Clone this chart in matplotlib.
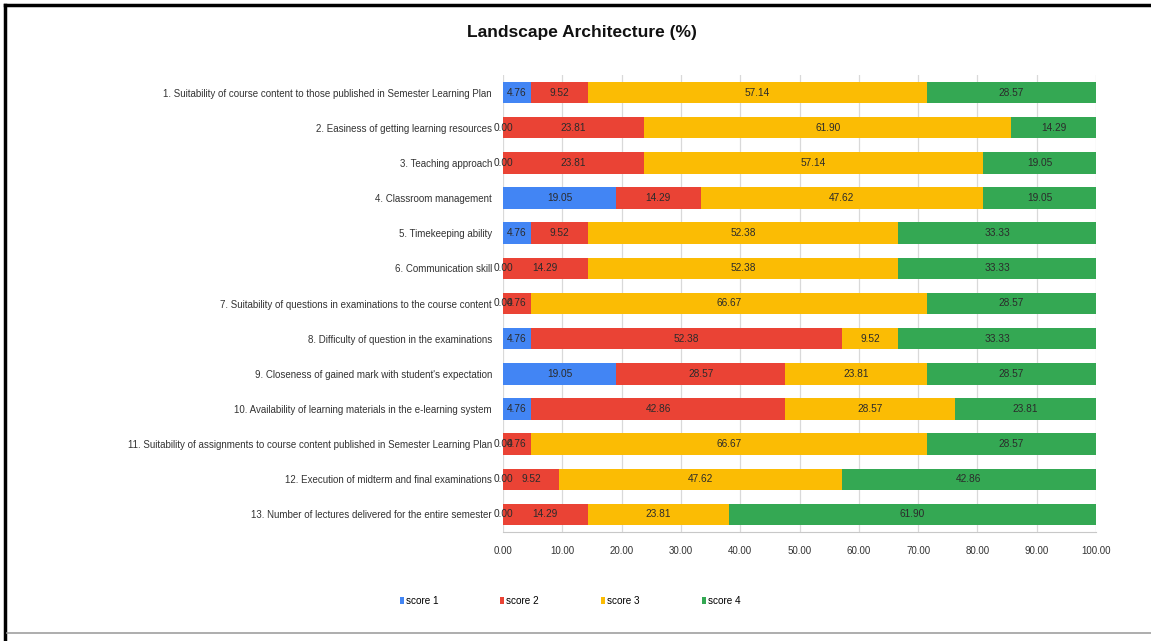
import matplotlib
matplotlib.use("Agg")
import matplotlib.pyplot as plt
from matplotlib.patches import Patch
from matplotlib.lines import Line2D
import numpy as np

plt.rcParams['font.family'] = ['Liberation Sans Narrow', 'Liberation Sans', 'DejaVu Sans']

title = "Landscape Architecture (%)"
categories = [
    "1. Suitability of course content to those published in Semester Learning Plan",
    "2. Easiness of getting learning resources",
    "3. Teaching approach",
    "4. Classroom management",
    "5. Timekeeping ability",
    "6. Communication skill",
    "7. Suitability of questions in examinations to the course content",
    "8. Difficulty of question in the examinations",
    "9. Closeness of gained mark with student's expectation",
    "10. Availability of learning materials in the e-learning system",
    "11. Suitability of assignments to course content published in Semester Learning Plan",
    "12. Execution of midterm and final examinations",
    "13. Number of lectures delivered for the entire semester",
]
score1 = [4.76, 0.00, 0.00, 19.05, 4.76, 0.00, 0.00, 4.76, 19.05, 4.76, 0.00, 0.00, 0.00]
score2 = [9.52, 23.81, 23.81, 14.29, 9.52, 14.29, 4.76, 52.38, 28.57, 42.86, 4.76, 9.52, 14.29]
score3 = [57.14, 61.90, 57.14, 47.62, 52.38, 52.38, 66.67, 9.52, 23.81, 28.57, 66.67, 47.62, 23.81]
score4 = [28.57, 14.29, 19.05, 19.05, 33.33, 33.33, 28.57, 33.33, 28.57, 23.81, 28.57, 42.86, 61.90]
series_names = ["score 1", "score 2", "score 3", "score 4"]
series_colors = ["#4285F4", "#EA4335", "#FBBC04", "#34A853"]
x_ticks = [0, 10, 20, 30, 40, 50, 60, 70, 80, 90, 100]

W, H = 1151, 641
fig = plt.figure(figsize=(W / 100, H / 100), dpi=100)
fig.patch.set_facecolor("white")

ax = fig.add_axes([503 / W, (H - 532) / H, 593 / W, 457 / H])

y = np.arange(len(categories))
left = np.zeros(len(categories))
for name, vals, col in zip(series_names, [score1, score2, score3, score4], series_colors):
    vals = np.array(vals)
    bars = ax.barh(y, vals, left=left, height=0.61, color=col, label=name, zorder=2)
    ax.bar_label(bars, labels=[f"{v:.2f}" for v in vals], label_type="center",
                 fontsize=7.3, color="#2b2b2b", clip_on=False)
    left += vals

ax.set_xlim(0, 100)
ax.set_ylim(len(categories) - 0.5, -0.5)
ax.set_yticks(y)
ax.set_yticklabels(categories, fontsize=7.0, color="#333333")
ax.set_xticks(x_ticks)
ax.set_xticklabels([f"{t:.2f}" for t in x_ticks], fontsize=7.0, color="#333333")
ax.tick_params(axis="both", length=0)
ax.tick_params(axis="y", pad=8)
ax.tick_params(axis="x", pad=10)
ax.grid(axis="x", color="#d9d9d9", linewidth=0.9, zorder=0)
for side in ["top", "right", "left"]:
    ax.spines[side].set_visible(False)
ax.spines["bottom"].set_color("#c8c8c8")

fig.text(582 / W, 1 - 33 / H, title, ha="center", va="center",
         fontsize=12.5, fontweight="bold", color="#111111")

handles = [Patch(facecolor=c, edgecolor="none") for c in series_colors]
fig.legend(handles, series_names, loc="center", bbox_to_anchor=(570 / W, 1 - 601 / H),
           ncol=4, frameon=False, fontsize=7.2, handlelength=0.4, handleheight=0.8,
           handletextpad=0.2, columnspacing=6.2)

# frame lines around the figure
fig.add_artist(Line2D([5 / W, 5 / W], [0, 1 - 5 / H], color="black", linewidth=2.5,
                      transform=fig.transFigure))
fig.add_artist(Line2D([5 / W, 1], [1 - 5 / H, 1 - 5 / H], color="black", linewidth=2.5,
                      transform=fig.transFigure))
fig.add_artist(Line2D([7 / W, 1], [1 - 633 / H, 1 - 633 / H], color="#a0a0a0", linewidth=1.2,
                      transform=fig.transFigure))

fig.savefig("out.png", dpi=100)
